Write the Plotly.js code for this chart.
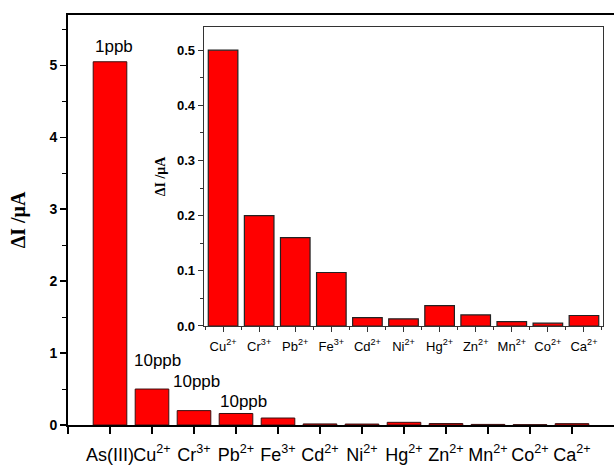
<!DOCTYPE html>
<html>
<head>
<meta charset="utf-8">
<script src="https://cdn.plot.ly/plotly-3.0.1.min.js"></script>
<style>html,body{margin:0;padding:0;background:#fff;}#chart{width:614px;height:466px;}</style>
</head>
<body>
<div id="chart"></div>
<script>
// Main chart data
const mainLabels = ["As(III)", "Cu<sup>2+</sup>", "Cr<sup>3+</sup>", "Pb<sup>2+</sup>", "Fe<sup>3+</sup>", "Cd<sup>2+</sup>", "Ni<sup>2+</sup>", "Hg<sup>2+</sup>", "Zn<sup>2+</sup>", "Mn<sup>2+</sup>", "Co<sup>2+</sup>", "Ca<sup>2+</sup>"];
const mainValues = [5.05, 0.50, 0.20, 0.16, 0.097, 0.015, 0.013, 0.037, 0.020, 0.008, 0.005, 0.019];

// Inset data (interfering ions)
const insetLabels = ["Cu<sup>2+</sup>", "Cr<sup>3+</sup>", "Pb<sup>2+</sup>", "Fe<sup>3+</sup>", "Cd<sup>2+</sup>", "Ni<sup>2+</sup>", "Hg<sup>2+</sup>", "Zn<sup>2+</sup>", "Mn<sup>2+</sup>", "Co<sup>2+</sup>", "Ca<sup>2+</sup>"];
const insetValues = [0.50, 0.20, 0.16, 0.097, 0.015, 0.013, 0.037, 0.020, 0.008, 0.005, 0.019];

// Concentration labels
const concLabels = ["1ppb", "10ppb", "10ppb", "10ppb"];
const concX = [0.1, 1.14, 2.05, 3.17];
const concY = [5.26, 0.90, 0.60, 0.33];

const mainX = mainValues.map((_, i) => i);
const insetX = insetValues.map((_, i) => i);

const traces = [
  {
    type: 'bar', x: mainX, y: mainValues, width: 0.8,
    marker: {color: '#ff0000', line: {color: '#3a1010', width: 1}},
    xaxis: 'x', yaxis: 'y', hoverinfo: 'none'
  },
  {
    type: 'bar', x: insetX, y: insetValues, width: 0.82,
    marker: {color: '#ff0000', line: {color: '#222', width: 1.2}},
    xaxis: 'x2', yaxis: 'y2', hoverinfo: 'none'
  }
];

const annotations = concLabels.map((t, k) => ({
  text: t, xref: 'x', yref: 'y', x: concX[k], y: concY[k],
  showarrow: false, xanchor: 'center', yanchor: 'middle',
  font: {family: 'Liberation Sans, Arial, sans-serif', size: 17, color: '#000'}
}));

const layout = {
  width: 614, height: 466,
  margin: {l: 68, r: 0, t: 15, b: 41, pad: 0},
  paper_bgcolor: '#fff', plot_bgcolor: '#fff',
  showlegend: false,
  bargap: 0,
  xaxis: {
    domain: [0, 1], range: [-1, 12],
    tickmode: 'array', tickvals: [-1].concat(mainX), ticktext: [''].concat(mainLabels),
    tickangle: 0, automargin: false, ticklabelstandoff: 5,
    ticks: 'outside', ticklen: 7, tickwidth: 1.5, tickcolor: '#000',
    showline: true, linewidth: 2, linecolor: '#000', mirror: true,
    showgrid: false, zeroline: false,
    tickfont: {family: 'Liberation Sans, Arial, sans-serif', size: 18, color: '#000'},
    fixedrange: true
  },
  yaxis: {
    domain: [0, 1], range: [0, 5.7],
    tick0: 0, dtick: 1, automargin: false,
    ticks: 'outside', ticklen: 6, tickwidth: 1.5, tickcolor: '#000',
    minor: {dtick: 0.5, tick0: 0, ticks: 'outside', ticklen: 4, tickwidth: 1, tickcolor: '#000', showgrid: false},
    showline: true, linewidth: 2, linecolor: '#000',
    showgrid: false, zeroline: false,
    tickfont: {family: 'Liberation Sans, Arial, sans-serif', size: 14, color: '#000', weight: 'bold'},
    title: {text: 'ΔI /μA', standoff: 18, font: {family: 'Liberation Serif, Times New Roman, serif', size: 20, color: '#000', weight: 'bold'}},
    fixedrange: true
  },
  xaxis2: {
    domain: [0.249, 0.980], anchor: 'y2', range: [-0.53, 10.53],
    tickmode: 'array', tickvals: insetX, ticktext: insetLabels,
    tickangle: 0, ticklabelstandoff: 3,
    ticks: 'outside', ticklen: 5, tickwidth: 1, tickcolor: '#333',
    minor: {tick0: 0.5, dtick: 1, ticks: 'outside', ticklen: 3, tickwidth: 1, tickcolor: '#333', showgrid: false},
    showline: true, linewidth: 1.3, linecolor: '#333', mirror: true,
    showgrid: false, zeroline: false,
    tickfont: {family: 'Liberation Sans, Arial, sans-serif', size: 13, color: '#000'},
    fixedrange: true
  },
  yaxis2: {
    domain: [0.2415, 0.9707], anchor: 'x2', range: [0, 0.542],
    tick0: 0, dtick: 0.1, tickformat: '.1f',
    ticks: 'outside', ticklen: 5, tickwidth: 1, tickcolor: '#333',
    minor: {dtick: 0.05, tick0: 0, ticks: 'outside', ticklen: 3, tickwidth: 1, tickcolor: '#333', showgrid: false},
    showline: true, linewidth: 1.3, linecolor: '#333', mirror: true,
    showgrid: false, zeroline: false,
    tickfont: {family: 'Liberation Sans, Arial, sans-serif', size: 13, color: '#000', weight: 'bold'},
    title: {text: 'ΔI /μA', standoff: 8, font: {family: 'Liberation Serif, Times New Roman, serif', size: 14, color: '#000', weight: 'bold'}},
    fixedrange: true
  },
  annotations: annotations
};

Plotly.newPlot('chart', traces, layout, {displayModeBar: false, staticPlot: true});
</script>
</body>
</html>
